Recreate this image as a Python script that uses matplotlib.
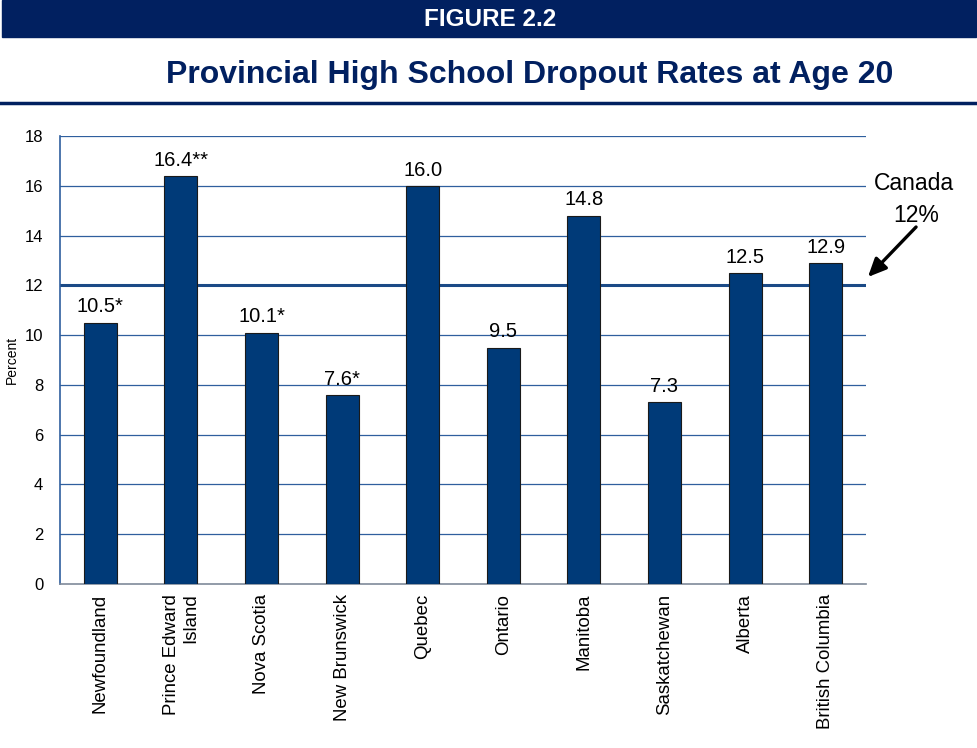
import matplotlib.pyplot as plt
from matplotlib.patches import Rectangle
from matplotlib.lines import Line2D

plt.rcParams['font.family'] = ['Liberation Sans', 'DejaVu Sans']

provinces = ['Newfoundland', 'Prince Edward\nIsland', 'Nova Scotia', 'New Brunswick',
             'Quebec', 'Ontario', 'Manitoba', 'Saskatchewan', 'Alberta', 'British Columbia']
rates = [10.5, 16.4, 10.1, 7.6, 16.0, 9.5, 14.8, 7.3, 12.5, 12.9]
notes = ['*', '**', '*', '*', '', '', '', '', '', '']
canada_rate = 12

navy = '#012060'
bar_color = '#003a78'
grid_color = '#2f5f9e'

fig = plt.figure(figsize=(9.78, 7.48), dpi=100)

# header band and title rule
fig.patches.append(Rectangle((0.002, 1 - 37 / 748), 0.996, 37 / 748,
                             transform=fig.transFigure, color=navy, zorder=0))
fig.text(0.501, 1 - 20 / 748, 'FIGURE 2.2', color='white', fontsize=17.5,
         fontweight='bold', ha='center', va='center')
fig.text(0.542, 1 - 75 / 748, 'Provincial High School Dropout Rates at Age 20',
         color=navy, fontsize=23, fontweight='bold', ha='center', va='center')
fig.lines.append(Line2D([0, 1], [1 - 103 / 748] * 2, transform=fig.transFigure,
                        color=navy, linewidth=2.5))

ax = fig.add_axes([60 / 978, 1 - 584 / 748, 806 / 978, 448 / 748])
x = range(len(provinces))
ax.bar(x, rates, width=0.41, color=bar_color, edgecolor='#1a1a1a', linewidth=0.8, zorder=3)

for xi, v, n in zip(x, rates, notes):
    ax.text(xi, v + 0.25, f'{v:.1f}{n}', ha='center', va='bottom', fontsize=14.5, zorder=4)

ax.set_xlim(-0.5, len(provinces) - 0.5)
ax.set_ylim(0, 18)
ax.set_yticks(range(0, 19, 2))
for t in range(2, 19, 2):
    if t != canada_rate:
        ax.axhline(t, color=grid_color, linewidth=0.9, zorder=1)
ax.axhline(canada_rate, color='#1b4a86', linewidth=2.2, zorder=2)

ax.set_xticks(list(x))
ax.set_xticklabels(provinces, rotation=90, fontsize=13.4, va='top', ha='center',
                   multialignment='right')
ax.tick_params(axis='x', length=0, pad=7)
ax.tick_params(axis='y', length=0, pad=12, labelsize=12)
fig.text(12 / 978, 1 - 360 / 748, 'Percent', fontsize=10, rotation=90,
         ha='center', va='center')

for side in ['top', 'right']:
    ax.spines[side].set_visible(False)
ax.spines['left'].set_color(grid_color)
ax.spines['left'].set_linewidth(1.2)
ax.spines['bottom'].set_color('#7f8a99')
ax.spines['bottom'].set_linewidth(1.2)

# national average callout
fig.text(914 / 978, 1 - 184 / 748, 'Canada', fontsize=16.5, ha='center', va='center')
fig.text(916 / 978, 1 - 216 / 748, '12%', fontsize=16.5, ha='center', va='center')
ax.annotate('', xy=(866 / 978, 1 - 279 / 748), xytext=(918 / 978, 1 - 225 / 748),
            xycoords='figure fraction', textcoords='figure fraction',
            arrowprops=dict(arrowstyle='-|>,head_length=1.1,head_width=0.5',
                            color='black', lw=2.4), annotation_clip=False)

fig.savefig('out.png', dpi=100)
